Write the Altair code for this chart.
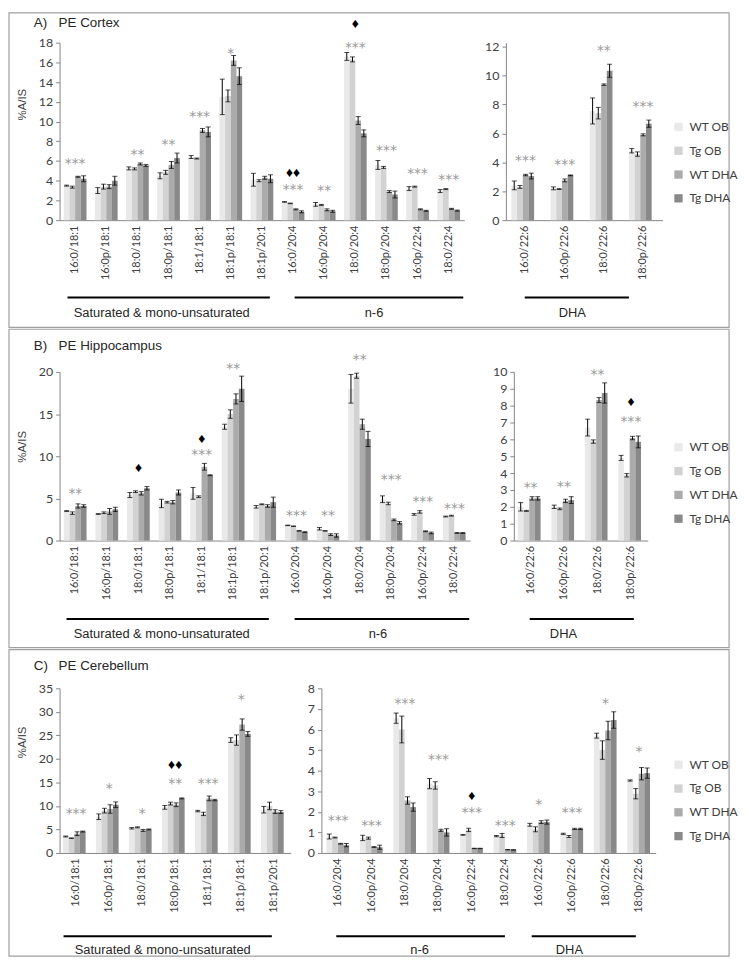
import altair as alt
import pandas as pd

SERIES = ["WT OB", "Tg OB", "WT DHA", "Tg DHA"]
COLORS = ["#E9E9E9", "#D2D2D2", "#ABABAB", "#898989"]

SAT = ["16:0/18:1", "16:0p/18:1", "18:0/18:1", "18:0p/18:1", "18:1/18:1", "18:1p/18:1", "18:1p/20:1"]
N6 = ["16:0/20:4", "16:0p/20:4", "18:0/20:4", "18:0p/20:4", "16:0p/22:4", "18:0/22:4"]
DHA = ["16:0/22:6", "16:0p/22:6", "18:0/22:6", "18:0p/22:6"]
GROUPS = ["Saturated & mono-unsaturated", "n-6", "DHA"]
TITLES = [["A)", "PE Cortex"], ["B)", "PE Hippocampus"], ["C)", "PE Cerebellum"]]
Y_TITLE = "%A/IS"

# ---------------- A) PE Cortex ----------------
A1_CATS = SAT + N6
A1_MEAN = [
    [3.5, 3.0, 5.25, 4.5, 6.4, 12.5, 4.1, 1.85, 1.6, 16.6, 5.6, 3.2, 2.95],
    [3.35, 3.4, 5.2, 4.85, 6.25, 12.6, 4.0, 1.7, 1.55, 16.3, 5.35, 3.4, 3.15],
    [4.4, 3.4, 5.7, 5.6, 9.1, 16.2, 4.3, 1.1, 1.05, 10.1, 2.9, 1.1, 1.15],
    [4.2, 4.0, 5.55, 6.3, 8.95, 14.6, 4.2, 0.85, 0.9, 8.8, 2.6, 0.95, 0.97],
]
A1_ERR = [
    [0.05, 0.3, 0.15, 0.3, 0.15, 1.8, 0.65, 0.03, 0.2, 0.4, 0.45, 0.2, 0.15],
    [0.1, 0.25, 0.1, 0.2, 0.05, 0.6, 0.1, 0.03, 0.05, 0.25, 0.1, 0.05, 0.05],
    [0.05, 0.2, 0.1, 0.35, 0.2, 0.5, 0.15, 0.05, 0.1, 0.4, 0.1, 0.05, 0.05],
    [0.3, 0.45, 0.1, 0.5, 0.5, 0.85, 0.4, 0.1, 0.1, 0.35, 0.35, 0.05, 0.05],
]
A1_STARS = ["***", "", "**", "**", "***", "*", "", "***", "**", "***", "***", "***", "***"]
A1_STAR_Y = [6.0, 0, 6.9, 7.9, 10.8, 17.1, 0, 3.4, 3.25, 17.8, 7.3, 5.0, 4.4]
A1_DIAM = ["", "", "", "", "", "", "", "♦♦", "", "♦", "", "", ""]
A1_DIAM_Y = [0, 0, 0, 0, 0, 0, 0, 4.8, 0, 19.9, 0, 0, 0]

A2_CATS = DHA
A2_MEAN = [
    [2.4, 2.2, 7.55, 4.8],
    [2.3, 2.15, 7.4, 4.57],
    [3.12, 2.75, 9.37, 5.9],
    [3.05, 3.1, 10.33, 6.67],
]
A2_ERR = [
    [0.3, 0.1, 0.9, 0.15],
    [0.1, 0.03, 0.4, 0.15],
    [0.05, 0.1, 0.05, 0.07],
    [0.2, 0.03, 0.45, 0.25],
]
A2_STARS = ["***", "***", "**", "***"]
A2_STAR_Y = [4.3, 4.0, 11.9, 8.0]
A2_DIAM = ["", "", "", ""]
A2_DIAM_Y = [0, 0, 0, 0]

# ---------------- B) PE Hippocampus ----------------
B1_CATS = SAT + N6
B1_MEAN = [
    [3.5, 3.15, 5.4, 4.4, 5.6, 13.5, 4.0, 1.8, 1.4, 18.0, 4.9, 3.1, 2.85],
    [3.25, 3.3, 5.8, 4.55, 5.2, 15.0, 4.3, 1.7, 1.15, 19.55, 4.4, 3.4, 2.95],
    [4.1, 3.45, 5.6, 4.55, 8.75, 16.8, 4.1, 1.15, 0.7, 13.8, 2.45, 1.1, 0.9],
    [4.1, 3.7, 6.2, 5.7, 7.75, 18.0, 4.55, 1.0, 0.6, 12.05, 2.1, 0.9, 0.9],
]
B1_ERR = [
    [0.05, 0.05, 0.3, 0.5, 0.7, 0.3, 0.15, 0.03, 0.15, 1.7, 0.4, 0.1, 0.05],
    [0.15, 0.1, 0.1, 0.1, 0.1, 0.5, 0.05, 0.03, 0.03, 0.3, 0.15, 0.15, 0.05],
    [0.25, 0.35, 0.2, 0.2, 0.4, 0.6, 0.15, 0.03, 0.1, 0.6, 0.1, 0.05, 0.05],
    [0.15, 0.25, 0.2, 0.3, 0.05, 1.5, 0.6, 0.05, 0.2, 0.9, 0.15, 0.1, 0.05],
]
B1_STARS = ["**", "", "", "", "***", "**", "", "***", "**", "**", "***", "***", "***"]
B1_STAR_Y = [5.9, 0, 0, 0, 10.5, 20.7, 0, 3.25, 3.3, 21.8, 7.55, 4.9, 4.1]
B1_DIAM = ["", "", "♦", "", "♦", "", "", "", "", "", "", "", ""]
B1_DIAM_Y = [0, 0, 8.65, 0, 12.05, 0, 0, 0, 0, 0, 0, 0, 0]

B2_CATS = DHA
B2_MEAN = [
    [2.0, 2.0, 6.7, 4.9],
    [1.76, 1.88, 5.87, 3.87],
    [2.5, 2.35, 8.33, 6.08],
    [2.5, 2.4, 8.75, 5.85],
]
B2_ERR = [
    [0.25, 0.1, 0.5, 0.15],
    [0.03, 0.05, 0.1, 0.1],
    [0.1, 0.1, 0.15, 0.1],
    [0.1, 0.2, 0.6, 0.35],
]
B2_STARS = ["**", "**", "**", "***"]
B2_STAR_Y = [3.3, 3.35, 10.0, 7.2]
B2_DIAM = ["", "", "", "♦"]
B2_DIAM_Y = [0, 0, 0, 8.2]

# ---------------- C) PE Cerebellum ----------------
C1_CATS = SAT
C1_MEAN = [
    [3.5, 7.7, 5.25, 9.7, 8.9, 24.0, 9.2],
    [3.15, 9.0, 5.45, 10.5, 8.3, 24.0, 10.0],
    [4.1, 9.35, 4.8, 10.25, 11.6, 27.3, 8.8],
    [4.55, 10.25, 5.0, 11.6, 11.25, 25.3, 8.7],
]
C1_ERR = [
    [0.1, 0.6, 0.15, 0.4, 0.15, 0.5, 0.7],
    [0.05, 0.5, 0.1, 0.3, 0.35, 1.1, 0.8],
    [0.4, 0.9, 0.2, 0.4, 0.5, 1.2, 0.4],
    [0.1, 0.6, 0.1, 0.1, 0.15, 0.5, 0.3],
]
C1_STARS = ["***", "*", "*", "**", "***", "*", ""]
C1_STAR_Y = [9.0, 14.3, 9.0, 15.3, 15.3, 33.2, 0]
C1_DIAM = ["", "", "", "♦♦", "", "", ""]
C1_DIAM_Y = [0, 0, 0, 18.7, 0, 0, 0]

C2_CATS = N6 + DHA
C2_MEAN = [
    [0.8, 0.73, 6.55, 3.37, 0.88, 0.82, 1.37, 0.93, 5.7, 3.52],
    [0.75, 0.72, 6.0, 3.28, 1.12, 0.85, 1.15, 0.8, 5.0, 2.88],
    [0.45, 0.29, 2.55, 1.1, 0.22, 0.16, 1.5, 1.17, 5.95, 3.85],
    [0.38, 0.28, 2.23, 1.0, 0.22, 0.15, 1.5, 1.17, 6.46, 3.88],
]
C2_ERR = [
    [0.12, 0.13, 0.25, 0.25, 0.02, 0.03, 0.07, 0.03, 0.12, 0.03],
    [0.02, 0.05, 0.65, 0.18, 0.08, 0.1, 0.12, 0.05, 0.45, 0.25],
    [0.02, 0.02, 0.18, 0.05, 0.01, 0.01, 0.07, 0.03, 0.45, 0.3],
    [0.08, 0.1, 0.2, 0.18, 0.01, 0.01, 0.1, 0.03, 0.4, 0.25],
]
C2_STARS = ["***", "***", "***", "***", "***", "***", "*", "***", "*", "*"]
C2_STAR_Y = [1.7, 1.47, 7.4, 4.65, 2.07, 1.45, 2.47, 2.07, 7.4, 5.05]
C2_DIAM = ["", "", "", "", "♦", "", "", "", "", ""]
C2_DIAM_Y = [0, 0, 0, 0, 2.75, 0, 0, 0, 0, 0]

# ---------------- styling ----------------
AXIS_C = "#868686"
LABEL_C = "#404040"
NUM_FONT = "Lato"
TXT_FONT = "Liberation Sans"
ONE = pd.DataFrame({"k": [0]})


def rule(origin, x1, x2, yy):
    ox, oy = origin
    return alt.Chart(ONE).mark_rule(color="black", strokeWidth=2).encode(
        x=alt.value(x1 - ox), x2=alt.value(x2 - ox), y=alt.value(yy - oy))


def label(origin, txt, x, y, align="center", size=13):
    ox, oy = origin
    return alt.Chart(ONE).mark_text(
        align=align, baseline="middle", font=TXT_FONT, fontSize=size, color="#262626"
    ).encode(x=alt.value(x - ox), y=alt.value(y - oy), text=alt.value(txt))


def subplot(cats, means, errs, stars, star_y, diam, diam_y, width, height, ymax,
            yticks, pad, origin, ytitle=False, title_pos=None, legend_pos=None, extras=()):
    rows = []
    for s, ms, es in zip(SERIES, means, errs):
        for c, m, e in zip(cats, ms, es):
            rows.append({"cat": c, "series": s, "value": m, "lo": m - e, "hi": m + e})
    df = pd.DataFrame(rows)
    ann = pd.DataFrame({"cat": cats, "star": stars, "sy": star_y, "mark": diam, "my": diam_y})
    sdf = ann[ann["star"] != ""]
    ddf = ann[ann["mark"] != ""]

    xs = alt.Scale(domain=cats, paddingInner=pad, paddingOuter=pad / 2)
    xax = alt.Axis(title=None, labelAngle=-90, ticks=False, domainColor=AXIS_C,
                   labelFont=NUM_FONT, labelFontSize=11, labelColor=LABEL_C,
                   labelPadding=5, labelOverlap=False)
    X = alt.X("cat:N", scale=xs, sort=cats, axis=xax)
    XO = alt.XOffset("series:N", sort=SERIES,
                     scale=alt.Scale(domain=SERIES, paddingInner=0, paddingOuter=0))
    ys = alt.Scale(domain=[0, ymax], nice=False, zero=False)
    if ytitle:
        yax = alt.Axis(values=yticks, grid=False, domainColor=AXIS_C, tickColor=AXIS_C,
                       tickSize=4, labelFont=NUM_FONT, labelFontSize=12.5,
                       labelColor=LABEL_C, labelPadding=3, title=Y_TITLE,
                       titleFont=TXT_FONT, titleFontSize=11.5, titleFontWeight="normal",
                       titleColor=LABEL_C, titleAngle=270, titleBaseline="middle",
                       titleAlign="center", titleX=title_pos[0], titleY=title_pos[1])
    else:
        yax = alt.Axis(values=yticks, grid=False, domainColor=AXIS_C, tickColor=AXIS_C,
                       tickSize=4, labelFont=NUM_FONT, labelFontSize=12.5,
                       labelColor=LABEL_C, labelPadding=3, title=None)

    def Y(f):
        return alt.Y(f, type="quantitative", scale=ys, axis=yax)

    if legend_pos is None:
        leg = None
    else:
        leg = alt.Legend(orient="none", legendX=legend_pos[0], legendY=legend_pos[1],
                         direction="vertical", title=None, symbolType="square",
                         symbolSize=70, symbolStrokeWidth=0, labelFont=NUM_FONT,
                         labelFontSize=12, labelColor=LABEL_C, rowPadding=12,
                         labelOffset=5)
    color = alt.Color("series:N", sort=SERIES,
                      scale=alt.Scale(domain=SERIES, range=COLORS), legend=leg)

    bars = alt.Chart(df).mark_bar().encode(x=X, xOffset=XO, y=Y("value"), color=color)
    errs_l = alt.Chart(df).mark_rule(color="black", strokeWidth=1).encode(
        x=X, xOffset=XO, y=Y("lo"), y2="hi:Q")
    cap_lo = alt.Chart(df).mark_tick(color="black", thickness=1, size=5).encode(
        x=X, xOffset=XO, y=Y("lo"))
    cap_hi = alt.Chart(df).mark_tick(color="black", thickness=1, size=5).encode(
        x=X, xOffset=XO, y=Y("hi"))
    star_l = alt.Chart(sdf).mark_text(font="DejaVu Sans", fontSize=14, color="#9A9A9A",
                                      baseline="middle", dy=3).encode(
        x=X, y=Y("sy"), text="star:N")
    layers = [bars, errs_l, cap_lo, cap_hi, star_l]
    if len(ddf):
        layers.append(alt.Chart(ddf).mark_text(font="Liberation Sans", fontSize=14,
                                               color="black", baseline="middle").encode(
            x=X, y=Y("my"), text="mark:N"))
    layers.extend(extras)
    return alt.layer(*layers).properties(width=width, height=height)


def border(origin, top, bottom, left=8, right=734):
    ox, oy = origin
    return alt.Chart(ONE).mark_rect(fillOpacity=0, stroke="#A0A0A0", strokeWidth=1.2).encode(
        x=alt.value(left - ox), x2=alt.value(right - ox),
        y=alt.value(top - oy), y2=alt.value(bottom - oy))


def title(origin, t, y):
    return [label(origin, t[0], 33, y, align="left", size=13.5),
            label(origin, t[1], 58, y, align="left", size=13.5)]


# ---- Row A (page coordinates of the views) ----
oA1 = (59, 38)
oA2 = (509, 38)
A_left = subplot(A1_CATS, A1_MEAN, A1_ERR, A1_STARS, A1_STAR_Y, A1_DIAM, A1_DIAM_Y,
                 408, 179, 18, list(range(0, 19, 2)), 0.27, oA1, ytitle=True,
                 title_pos=(-37, 100 - 38),
                 extras=[border(oA1, 8, 325)] + title(oA1, TITLES[0], 18) + [
                     rule(oA1, 67, 271, 295), label(oA1, GROUPS[0], 162, 311),
                     rule(oA1, 296, 466, 295), label(oA1, GROUPS[1], 376, 311)])
A_right = subplot(A2_CATS, A2_MEAN, A2_ERR, A2_STARS, A2_STAR_Y, A2_DIAM, A2_DIAM_Y,
                  158, 179, 12 * 179 / 175, list(range(0, 13, 2)), 0.28, oA2,
                  legend_pos=(677 - 509, 117 - 38),
                  extras=[rule(oA2, 528, 633, 295), label(oA2, GROUPS[2], 576, 311)])
row_A = alt.hconcat(A_left, A_right, spacing=42, bounds="flush").resolve_scale(color="independent")

# ---- Row B ----
oB1 = (59, 369)
oB2 = (517, 369)
B_left = subplot(B1_CATS, B1_MEAN, B1_ERR, B1_STARS, B1_STAR_Y, B1_DIAM, B1_DIAM_Y,
                 414, 170, 20, list(range(0, 21, 5)), 0.27, oB1, ytitle=True,
                 title_pos=(-37, 444 - 369),
                 extras=[border(oB1, 326, 647)] + title(oB1, TITLES[1], 343) + [
                     rule(oB1, 66, 270, 618), label(oB1, GROUPS[0], 162, 633),
                     rule(oB1, 296, 472, 618), label(oB1, GROUPS[1], 380, 633)])
B_right = subplot(B2_CATS, B2_MEAN, B2_ERR, B2_STARS, B2_STAR_Y, B2_DIAM, B2_DIAM_Y,
                  135, 170, 10, list(range(0, 11)), 0.24, oB2,
                  legend_pos=(677 - 517, 439 - 369),
                  extras=[rule(oB2, 533, 638, 618), label(oB2, GROUPS[2], 567, 633)])
row_B = alt.hconcat(B_left, B_right, spacing=44, bounds="flush").resolve_scale(color="independent")

# ---- Row C ----
oC1 = (59, 687)
oC2 = (323, 687)
C_left = subplot(C1_CATS, C1_MEAN, C1_ERR, C1_STARS, C1_STAR_Y, C1_DIAM, C1_DIAM_Y,
                 233, 166, 35, list(range(0, 36, 5)), 0.2, oC1, ytitle=True,
                 title_pos=(-37, 741 - 687),
                 extras=[border(oC1, 648, 957)] + title(oC1, TITLES[2], 665) + [
                     rule(oC1, 63, 273, 937), label(oC1, GROUPS[0], 163, 951)])
C_right = subplot(C2_CATS, C2_MEAN, C2_ERR, C2_STARS, C2_STAR_Y, C2_DIAM, C2_DIAM_Y,
                  337, 166, 8, list(range(0, 9)), 0.3, oC2,
                  legend_pos=(677 - 323, 758 - 687),
                  extras=[rule(oC2, 338, 508, 937), label(oC2, GROUPS[1], 422, 951),
                          rule(oC2, 535, 640, 937), label(oC2, GROUPS[2], 573, 951)])
row_C = alt.hconcat(C_left, C_right, spacing=31, bounds="flush").resolve_scale(color="independent")

chart = alt.vconcat(row_A, row_B, row_C, spacing=0).resolve_scale(
    color="independent").properties(padding=0).configure_view(strokeWidth=0)

chart.save("out.html", embed_options={"renderer": "svg", "actions": False})
